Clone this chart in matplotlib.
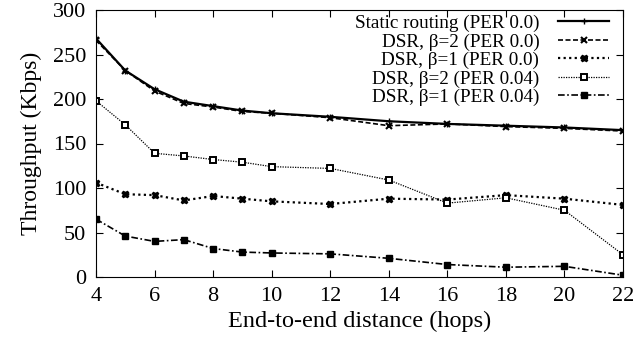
import matplotlib
matplotlib.use("Agg")
import matplotlib.pyplot as plt

hops = [4, 5, 6, 7, 8, 9, 10, 12, 14, 16, 18, 20, 22]

static_per0 = [268, 232, 211, 197, 192, 187, 184, 180, 175, 172, 170, 168, 165]
dsr_b2_per0 = [266, 232, 209, 195, 191, 186, 184, 179, 170, 172, 169, 167, 164]
dsr_b1_per0 = [106, 93, 92, 86, 91, 88, 85, 82, 88, 87, 92, 88, 81]
dsr_b2_per004 = [198, 171, 139, 136, 132, 129, 124, 122, 109, 83, 89, 75, 25]
dsr_b1_per004 = [65, 46, 40, 42, 32, 28, 27, 26, 21, 14, 11, 12, 2]

labels = [
    "Static routing (PER 0.0)",
    "DSR, \u03b2=2 (PER 0.0)",
    "DSR, \u03b2=1 (PER 0.0)",
    "DSR, \u03b2=2 (PER 0.04)",
    "DSR, \u03b2=1 (PER 0.04)",
]

xticks = [4, 6, 8, 10, 12, 14, 16, 18, 20, 22]
yticks = [0, 50, 100, 150, 200, 250, 300]

plt.rcParams["font.family"] = ["Liberation Serif", "DejaVu Serif"]

fig = plt.figure(figsize=(6.41, 3.38), dpi=100)
ax = fig.add_axes([96 / 641, 1 - 277 / 338, (623 - 96) / 641, (277 - 10) / 338])

ax.plot(hops, static_per0, color="black", linestyle="-", linewidth=1.6,
        marker="+", markersize=5, markeredgewidth=1.0, label=labels[0])
ax.plot(hops, dsr_b2_per0, color="black", linestyle=(0, (3, 1.5)), linewidth=1.2,
        marker="x", markersize=4, markeredgewidth=1.5, label=labels[1])
ax.plot(hops, dsr_b1_per0, color="black", linestyle=(0, (1, 1.5)), linewidth=1.6,
        marker="X", markersize=5, label=labels[2])
ax.plot(hops, dsr_b2_per004, color="black", linestyle=(0, (1, 1)), linewidth=0.9,
        marker="s", markersize=4.5, markerfacecolor="white", markeredgewidth=1.4,
        label=labels[3])
ax.plot(hops, dsr_b1_per004, color="black", linestyle=(0, (4, 1.5, 1, 1.5)), linewidth=1.2,
        marker="s", markersize=4.5, label=labels[4])

ax.set_xlim(4, 22)
ax.set_ylim(0, 300)
ax.set_xticks(xticks)
ax.set_yticks(yticks)
ax.tick_params(direction="in", top=True, right=True, labelsize=16, length=5, pad=7)
ax.set_xlabel("End-to-end distance (hops)", fontsize=17.5, labelpad=4)
ax.set_ylabel("Throughput (Kbps)", fontsize=17, labelpad=8)

ax.legend(loc="upper right", bbox_to_anchor=(1 - 9 / 527, 1), frameon=False,
          markerfirst=False, fontsize=13.8, handlelength=2.65, labelspacing=0.05,
          borderaxespad=0, borderpad=0.25, handletextpad=1.0)

fig.savefig("out.png", dpi=100)
